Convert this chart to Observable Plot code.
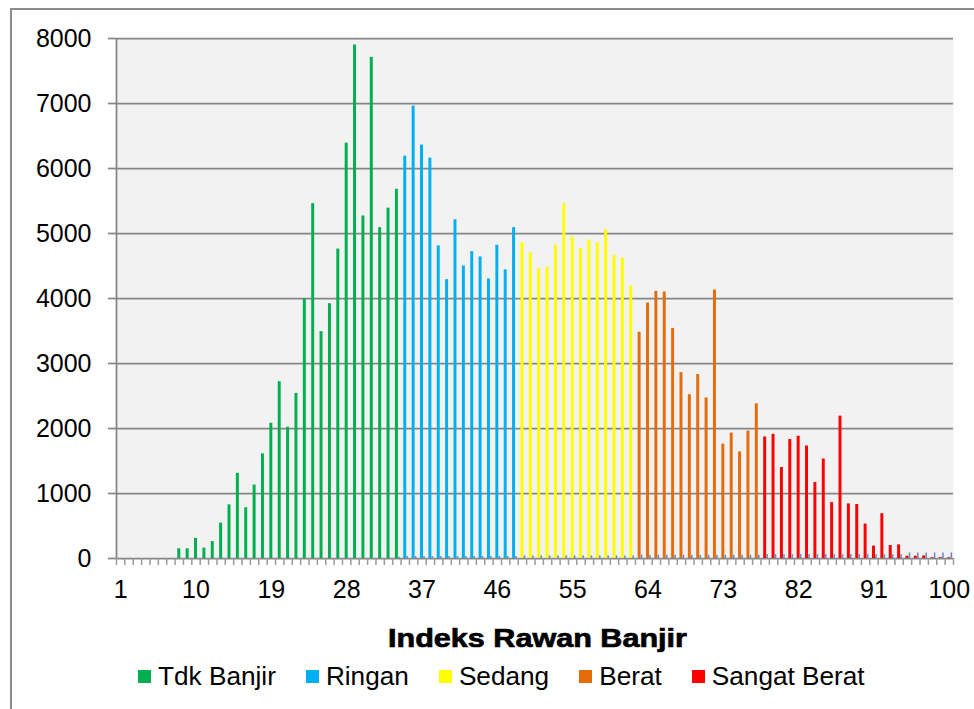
<!DOCTYPE html>
<html>
<head>
<meta charset="utf-8">
<script src="https://cdn.jsdelivr.net/npm/d3@7"></script>
<script src="https://cdn.jsdelivr.net/npm/@observablehq/plot@0.6"></script>
<style>
  body { margin: 0; background: #fff; font-family: "Liberation Sans", Arial, sans-serif; }
  #wrap { position: relative; width: 974px; height: 709px; overflow: hidden; background: #fff; }
  #border { position: absolute; left: 10px; top: 8px; width: 980px; height: 720px; border: 2px solid #8c8c8c; box-sizing: border-box; }
  #chart { position: absolute; left: 0; top: 0; }
  #xtitle { position: absolute; left: 0; top: 0; }
  #legend { position: absolute; left: 138px; top: 662px; display: flex; align-items: center; gap: 30px; font-size: 26.2px; color: #000; line-height: 28px; }
  .item { display: flex; align-items: center; gap: 7px; }
  .sw { width: 13px; height: 13px; display: inline-block; }
</style>
</head>
<body>
<div id="wrap">
  <div id="border"></div>
  <div id="chart"></div>
  <svg id="xtitle" width="974" height="709"></svg>
  <div id="legend"></div>
</div>
<script>
// ---- data ----
const categories = [1,2,3,4,5,6,7,8,9,10,11,12,13,14,15,16,17,18,19,20,21,22,23,24,25,26,27,28,29,30,
  31,32,33,34,35,36,37,38,39,40,41,42,43,44,45,46,47,48,49,50,51,52,53,54,55,56,57,58,59,60,
  61,62,63,64,65,66,67,68,69,70,71,72,73,74,75,76,77,78,79,80,81,82,83,84,85,86,87,88,89,90,
  91,92,93,94,95,96,97,98,99,100];
const xTickLabels = [1,10,19,28,37,46,55,64,73,82,91,100];
const yTicks = [0,1000,2000,3000,4000,5000,6000,7000,8000];
const seriesNames = ["Tdk Banjir","Ringan","Sedang","Berat","Sangat Berat"];
const seriesColors = ["#00b050","#00b0f0","#ffff00","#e46c0a","#ff0000"];

// first category of each series
const seriesStart = [1, 35, 49, 63, 78];
const tdkBanjir = [0,0,0,0,0,0,0,150,150,310,160,260,545,825,1310,780,1130,1610,2080,2720,
  2020,2540,4000,5460,3490,3920,4760,6390,7900,5270,7710,5090,5390,5680];
const ringan = [6190,6960,6360,6160,4810,4290,5210,4500,4720,4640,4300,4820,4440,5090];
const sedang = [4860,4700,4460,4480,4820,5460,4950,4770,4900,4860,5060,4660,4620,4190];
const berat = [3480,3930,4110,4100,3540,2860,2520,2830,2470,4130,1760,1930,1640,1960,2380];
const sangatBerat = [1870,1910,1400,1830,1880,1730,1170,1530,860,2190,840,830,530,190,690,200,210,
  35,35,40,12,12,12];

// small unlabeled series near the baseline (categories 34..100)
const lainStart = 34;
const lain = [20,30,30,30,30,30,30,30,30,30,30,30,30,30,30,
  40,40,40,40,40,40,40,40,40,40,40,40,40,40,
  50,50,50,50,50,50,50,50,50,50,50,50,50,50,50,
  60,60,60,60,60,60,60,60,60,60,60,60,60,60,60,60,60,
  85,85,85,85,85,85];

// ---- build rows ----
const seriesValues = [tdkBanjir, ringan, sedang, berat, sangatBerat];
const rows = [];
seriesValues.forEach((vals, s) => {
  vals.forEach((v, i) => rows.push({cat: seriesStart[s] + i, value: v, series: seriesNames[s]}));
});
const lainRows = lain.map((v, i) => ({cat: lainStart + i, value: v}));

const left = 116, right = 953;
const bw = (right - left) / categories.length;
const gridColor = "#868686";

const chart = Plot.plot({
  width: 974,
  height: 615,
  marginLeft: left,
  marginRight: 974 - right,
  marginTop: 38,
  marginBottom: 615 - 558,
  x: {type: "band", domain: categories, padding: 0, align: 0.5},
  y: {domain: [0, 8000]},
  color: {domain: seriesNames, range: seriesColors},
  style: {fontFamily: '"Liberation Sans", Arial, sans-serif', fontSize: "25px", color: "#000", background: "transparent", overflow: "visible"},
  marks: [
    Plot.frame({fill: "#f2f2f2", stroke: null}),
    Plot.gridY(yTicks, {stroke: gridColor, strokeOpacity: 1, strokeWidth: 1.75}),
    Plot.barY(rows, {x: "cat", y: "value", fill: "series", insetLeft: 2.7, insetRight: 2.7}),
    Plot.barY(lainRows, {x: "cat", y: "value", fill: "#6a8cc6", insetLeft: 5.9, insetRight: 0.9}),
    Plot.ruleX([categories[0]], {y1: 0, y2: 8000, dx: -bw / 2, stroke: gridColor, strokeWidth: 1.75}),
    Plot.axisY(yTicks, {tickSize: 8, tickPadding: 17, tickFormat: d => String(d), stroke: gridColor, strokeWidth: 1.75, fill: "#000", fontSize: 25, label: null}),
    Plot.axisX(categories, {tickSize: 7, tickFormat: () => "", dx: -bw / 2, stroke: "#9a9a9a", strokeWidth: 1.5, label: null}),
    Plot.axisX([categories[categories.length - 1]], {tickSize: 7, tickFormat: () => "", dx: bw / 2, stroke: "#9a9a9a", strokeWidth: 1.5, label: null}),
    Plot.axisX(xTickLabels, {tickSize: 0, tickPadding: 22, tickFormat: d => String(d), fill: "#000", fontSize: 25, label: null})
  ]
});
document.getElementById("chart").appendChild(chart);

// axis title
d3.select("#xtitle").append("text")
  .attr("x", 537.5).attr("y", 647)
  .attr("text-anchor", "middle")
  .attr("font-family", '"Liberation Sans", Arial, sans-serif')
  .attr("font-weight", "bold")
  .attr("font-size", 26.5)
  .attr("textLength", 299)
  .attr("lengthAdjust", "spacingAndGlyphs")
  .attr("stroke", "#000").attr("stroke-width", 0.7)
  .text("Indeks Rawan Banjir");

// legend
const legend = d3.select("#legend");
seriesNames.forEach((name, i) => {
  const it = legend.append("div").attr("class", "item");
  it.append("span").attr("class", "sw").style("background", seriesColors[i]);
  it.append("span").text(name);
});
</script>
</body>
</html>
